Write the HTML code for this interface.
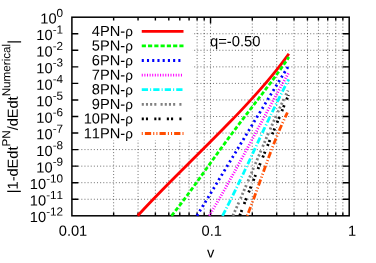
<!DOCTYPE html>
<html><head><meta charset="utf-8"><title>PN convergence chart</title><style>html,body{margin:0;padding:0;background:#fff;overflow:hidden}</style></head><body><svg width="376" height="263" viewBox="0 0 376 263" style="display:block;will-change:transform;font-kerning:none;font-family:'Liberation Sans',sans-serif">
<rect width="376" height="263" fill="#fff"/>
<path d="M71.90 33.75H349.20M71.90 50.30H349.20M71.90 66.85H349.20M71.90 83.40H349.20M71.90 99.95H349.20M71.90 116.50H349.20M71.90 133.05H349.20M71.90 149.60H349.20M71.90 166.15H349.20M71.90 182.70H349.20M71.90 199.25H349.20M113.64 215.80V17.20M138.05 215.80V17.20M155.38 215.80V17.20M168.81 215.80V17.20M179.79 215.80V17.20M189.07 215.80V17.20M197.11 215.80V17.20M204.21 215.80V17.20M210.55 215.80V17.20M252.29 215.80V17.20M276.70 215.80V17.20M294.03 215.80V17.20M307.46 215.80V17.20M318.44 215.80V17.20M327.72 215.80V17.20M335.76 215.80V17.20M342.86 215.80V17.20" stroke="#000" stroke-width="0.55" stroke-dasharray="1.045 2.090" fill="none"/>
<rect x="71.90" y="17.20" width="120.10" height="123.00" fill="#fff"/>
<path d="M71.90 33.75h6.4M349.20 33.75h-6.4M71.90 50.30h6.4M349.20 50.30h-6.4M71.90 66.85h6.4M349.20 66.85h-6.4M71.90 83.40h6.4M349.20 83.40h-6.4M71.90 99.95h6.4M349.20 99.95h-6.4M71.90 116.50h6.4M349.20 116.50h-6.4M71.90 133.05h6.4M349.20 133.05h-6.4M71.90 149.60h6.4M349.20 149.60h-6.4M71.90 166.15h6.4M349.20 166.15h-6.4M71.90 182.70h6.4M349.20 182.70h-6.4M71.90 199.25h6.4M349.20 199.25h-6.4M113.64 215.80v-3.3M113.64 17.20v3.3M138.05 215.80v-3.3M138.05 17.20v3.3M155.38 215.80v-3.3M155.38 17.20v3.3M168.81 215.80v-3.3M168.81 17.20v3.3M179.79 215.80v-3.3M179.79 17.20v3.3M189.07 215.80v-3.3M189.07 17.20v3.3M197.11 215.80v-3.3M197.11 17.20v3.3M204.21 215.80v-3.3M204.21 17.20v3.3M210.55 215.80v-6.4M210.55 17.20v6.4M252.29 215.80v-3.3M252.29 17.20v3.3M276.70 215.80v-3.3M276.70 17.20v3.3M294.03 215.80v-3.3M294.03 17.20v3.3M307.46 215.80v-3.3M307.46 17.20v3.3M318.44 215.80v-3.3M318.44 17.20v3.3M327.72 215.80v-3.3M327.72 17.20v3.3M335.76 215.80v-3.3M335.76 17.20v3.3M342.86 215.80v-3.3M342.86 17.20v3.3" stroke="#000" stroke-width="1.4" fill="none"/>
<rect x="71.90" y="17.20" width="277.30" height="198.60" stroke="#000" stroke-width="1.5" fill="none"/>
<path d="M137.67 215.80L140.68 212.55L143.72 209.30L146.78 206.06L149.88 202.81L152.99 199.56L156.13 196.31L159.29 193.06L162.46 189.82L165.66 186.57L168.87 183.32L172.09 180.07L175.32 176.82L178.57 173.57L181.82 170.33L185.08 167.08L188.34 163.83L191.60 160.58L194.87 157.33L198.14 154.09L201.40 150.84L204.65 147.59L207.91 144.34L211.15 141.09L214.38 137.85L217.60 134.60L220.81 131.35L224.01 128.10L227.18 124.85L230.34 121.60L233.48 118.36L236.59 115.11L239.68 111.86L242.75 108.61L245.78 105.36L248.79 102.12L251.77 98.87L254.71 95.62L257.62 92.37L260.49 89.12L263.33 85.88L266.12 82.63L268.87 79.38L271.58 76.13L274.24 72.88L276.86 69.63L279.43 66.39L281.94 63.14L284.40 59.89L286.81 56.64L288.87 53.80" stroke="#ff0000" stroke-width="2.8" fill="none"/>
<path d="M171.51 215.80L174.06 212.62L176.56 209.43L179.03 206.25L181.46 203.06L183.85 199.88L186.22 196.70L188.57 193.51L190.89 190.33L193.20 187.14L195.50 183.96L197.78 180.78L200.06 177.59L202.34 174.41L204.61 171.22L206.88 168.04L209.16 164.86L211.44 161.67L213.73 158.49L216.02 155.30L218.33 152.12L220.64 148.94L222.97 145.75L225.30 142.57L227.65 139.38L230.01 136.20L232.38 133.02L234.76 129.83L237.16 126.65L239.57 123.47L241.98 120.28L244.40 117.10L246.84 113.91L249.27 110.73L251.71 107.55L254.16 104.36L256.60 101.18L259.04 97.99L261.48 94.81L263.91 91.63L266.33 88.44L268.74 85.26L271.13 82.07L273.50 78.89L275.84 75.71L278.16 72.52L280.44 69.34L282.69 66.15L284.89 62.97L287.05 59.79L288.90 57.00" stroke="#00ff00" stroke-width="2.8" fill="none" stroke-dasharray="4.180 2.090"/>
<path d="M196.91 215.80L198.74 212.82L200.56 209.83L202.39 206.85L204.21 203.87L206.04 200.88L207.86 197.90L209.67 194.92L211.49 191.93L213.31 188.95L215.12 185.97L216.94 182.98L218.75 180.00L220.56 177.02L222.37 174.03L224.19 171.05L226.00 168.06L227.81 165.08L229.62 162.10L231.43 159.11L233.24 156.13L235.05 153.15L236.86 150.16L238.67 147.18L240.48 144.20L242.29 141.21L244.11 138.23L245.92 135.25L247.74 132.26L249.55 129.28L251.37 126.30L253.19 123.31L255.01 120.33L256.83 117.35L258.66 114.36L260.48 111.38L262.31 108.40L264.14 105.41L265.97 102.43L267.81 99.45L269.65 96.46L271.49 93.48L273.33 90.49L275.18 87.51L277.02 84.53L278.88 81.54L280.73 78.56L282.59 75.58L284.45 72.59L286.32 69.61L287.95 67.00" stroke="#0000ff" stroke-width="2.8" fill="none" stroke-dasharray="2.090 3.135"/>
<path d="M209.18 215.80L210.90 212.93L212.61 210.06L214.31 207.19L216.00 204.32L217.68 201.44L219.35 198.57L221.00 195.70L222.65 192.83L224.29 189.96L225.92 187.09L227.54 184.22L229.16 181.35L230.76 178.47L232.36 175.60L233.96 172.73L235.55 169.86L237.13 166.99L238.71 164.12L240.28 161.25L241.85 158.38L243.41 155.51L244.97 152.63L246.53 149.76L248.09 146.89L249.64 144.02L251.19 141.15L252.74 138.28L254.29 135.41L255.84 132.54L257.39 129.66L258.94 126.79L260.49 123.92L262.04 121.05L263.59 118.18L265.14 115.31L266.70 112.44L268.26 109.57L269.82 106.70L271.39 103.82L272.96 100.95L274.54 98.08L276.12 95.21L277.71 92.34L279.30 89.47L280.90 86.60L282.50 83.73L284.11 80.85L285.73 77.98L287.36 75.11L288.79 72.60" stroke="#ff00ff" stroke-width="2.8" fill="none" stroke-dasharray="1.045 1.567"/>
<path d="M222.48 215.80L223.90 213.06L225.31 210.33L226.71 207.59L228.10 204.85L229.48 202.12L230.84 199.38L232.20 196.64L233.55 193.91L234.89 191.17L236.22 188.43L237.54 185.69L238.85 182.96L240.16 180.22L241.46 177.48L242.76 174.75L244.05 172.01L245.34 169.27L246.62 166.54L247.90 163.80L249.18 161.06L250.46 158.33L251.73 155.59L253.00 152.85L254.27 150.12L255.55 147.38L256.82 144.64L258.09 141.91L259.37 139.17L260.65 136.43L261.93 133.69L263.21 130.96L264.50 128.22L265.79 125.48L267.09 122.75L268.39 120.01L269.70 117.27L271.02 114.54L272.34 111.80L273.67 109.06L275.01 106.33L276.36 103.59L277.72 100.85L279.08 98.12L280.46 95.38L281.85 92.64L283.25 89.91L284.66 87.17L286.09 84.43L287.53 81.69L288.80 79.30" stroke="#00ffff" stroke-width="2.8" fill="none" stroke-dasharray="6.270 2.090 1.045 2.090"/>
<path d="M232.85 215.80L233.98 213.29L235.11 210.78L236.23 208.26L237.35 205.75L238.46 203.24L239.56 200.73L240.66 198.21L241.75 195.70L242.84 193.19L243.93 190.68L245.01 188.16L246.09 185.65L247.17 183.14L248.24 180.63L249.31 178.12L250.38 175.60L251.45 173.09L252.51 170.58L253.58 168.07L254.64 165.55L255.71 163.04L256.78 160.53L257.84 158.02L258.91 155.51L259.98 152.99L261.05 150.48L262.12 147.97L263.19 145.46L264.27 142.94L265.35 140.43L266.43 137.92L267.52 135.41L268.61 132.89L269.71 130.38L270.81 127.87L271.91 125.36L273.02 122.85L274.14 120.33L275.26 117.82L276.39 115.31L277.53 112.80L278.68 110.28L279.83 107.77L280.99 105.26L282.16 102.75L283.33 100.24L284.52 97.72L285.71 95.21L286.92 92.70L287.98 90.50" stroke="#808080" stroke-width="2.8" fill="none" stroke-dasharray="2.090 2.090 2.090 2.090 2.090 2.090 2.090 4.180"/>
<path d="M239.70 215.80L240.61 213.38L241.52 210.96L242.44 208.53L243.36 206.11L244.29 203.69L245.22 201.27L246.16 198.85L247.10 196.42L248.05 194.00L249.00 191.58L249.95 189.16L250.91 186.74L251.87 184.31L252.83 181.89L253.80 179.47L254.77 177.05L255.74 174.63L256.72 172.20L257.70 169.78L258.68 167.36L259.66 164.94L260.65 162.51L261.64 160.09L262.63 157.67L263.62 155.25L264.62 152.83L265.61 150.40L266.61 147.98L267.61 145.56L268.61 143.14L269.61 140.72L270.61 138.29L271.62 135.87L272.62 133.45L273.62 131.03L274.63 128.61L275.63 126.18L276.64 123.76L277.64 121.34L278.64 118.92L279.65 116.50L280.65 114.07L281.65 111.65L282.65 109.23L283.65 106.81L284.65 104.39L285.65 101.96L286.65 99.54L287.64 97.12L288.51 95.00" stroke="#000000" stroke-width="2.8" fill="none" stroke-dasharray="2.090 2.090 2.090 6.270"/>
<path d="M247.13 215.80L247.96 213.73L248.78 211.66L249.59 209.59L250.39 207.52L251.18 205.44L251.97 203.37L252.75 201.30L253.52 199.23L254.29 197.16L255.05 195.09L255.81 193.02L256.56 190.95L257.31 188.87L258.06 186.80L258.81 184.73L259.55 182.66L260.29 180.59L261.03 178.52L261.77 176.45L262.51 174.38L263.26 172.31L264.00 170.23L264.74 168.16L265.49 166.09L266.24 164.02L267.00 161.95L267.75 159.88L268.52 157.81L269.28 155.74L270.06 153.66L270.84 151.59L271.62 149.52L272.42 147.45L273.22 145.38L274.03 143.31L274.85 141.24L275.67 139.17L276.51 137.10L277.36 135.02L278.22 132.95L279.09 130.88L279.97 128.81L280.87 126.74L281.78 124.67L282.70 122.60L283.64 120.53L284.59 118.45L285.55 116.38L286.54 114.31L287.41 112.50" stroke="#ff4d00" stroke-width="2.8" fill="none" stroke-dasharray="1.045 2.090 6.270 2.090 1.045 2.090"/>
<path d="M141.75 31.30H183.5" stroke="#ff0000" stroke-width="2.8" fill="none"/>
<text x="132.9" y="36.00" transform="rotate(0.03 132.9 36.00)" font-size="14.67" text-anchor="end">4PN-<tspan font-size="13.5">ρ</tspan></text>
<path d="M141.75 45.90H183.5" stroke="#00ff00" stroke-width="2.8" fill="none" stroke-dasharray="4.180 2.090"/>
<text x="132.9" y="50.60" transform="rotate(0.03 132.9 50.60)" font-size="14.67" text-anchor="end">5PN-<tspan font-size="13.5">ρ</tspan></text>
<path d="M141.75 60.50H183.5" stroke="#0000ff" stroke-width="2.8" fill="none" stroke-dasharray="2.090 3.135"/>
<text x="132.9" y="65.20" transform="rotate(0.03 132.9 65.20)" font-size="14.67" text-anchor="end">6PN-<tspan font-size="13.5">ρ</tspan></text>
<path d="M141.75 75.10H183.5" stroke="#ff00ff" stroke-width="2.8" fill="none" stroke-dasharray="1.045 1.567"/>
<text x="132.9" y="79.80" transform="rotate(0.03 132.9 79.80)" font-size="14.67" text-anchor="end">7PN-<tspan font-size="13.5">ρ</tspan></text>
<path d="M141.75 89.70H183.5" stroke="#00ffff" stroke-width="2.8" fill="none" stroke-dasharray="6.270 2.090 1.045 2.090"/>
<text x="132.9" y="94.40" transform="rotate(0.03 132.9 94.40)" font-size="14.67" text-anchor="end">8PN-<tspan font-size="13.5">ρ</tspan></text>
<path d="M141.75 104.30H183.5" stroke="#808080" stroke-width="2.8" fill="none" stroke-dasharray="2.090 2.090 2.090 2.090 2.090 2.090 2.090 4.180"/>
<text x="132.9" y="109.00" transform="rotate(0.03 132.9 109.00)" font-size="14.67" text-anchor="end">9PN-<tspan font-size="13.5">ρ</tspan></text>
<path d="M141.75 118.90H183.5" stroke="#000000" stroke-width="2.8" fill="none" stroke-dasharray="2.090 2.090 2.090 6.270"/>
<text x="132.9" y="123.60" transform="rotate(0.03 132.9 123.60)" font-size="14.67" text-anchor="end">10PN-<tspan font-size="13.5">ρ</tspan></text>
<path d="M141.75 133.50H183.5" stroke="#ff4d00" stroke-width="2.8" fill="none" stroke-dasharray="1.045 2.090 6.270 2.090 1.045 2.090"/>
<text x="132.9" y="138.20" transform="rotate(0.03 132.9 138.20)" font-size="14.67" text-anchor="end">11PN-<tspan font-size="13.5">ρ</tspan></text>
<text x="63.1" y="23.50" transform="rotate(0.03 63.1 23.50)" font-size="14.67" text-anchor="end">10<tspan font-size="11.736" dy="-6.6">0</tspan></text>
<text x="63.1" y="40.05" transform="rotate(0.03 63.1 40.05)" font-size="14.67" text-anchor="end">10<tspan font-size="11.736" dy="-6.6">-1</tspan></text>
<text x="63.1" y="56.60" transform="rotate(0.03 63.1 56.60)" font-size="14.67" text-anchor="end">10<tspan font-size="11.736" dy="-6.6">-2</tspan></text>
<text x="63.1" y="73.15" transform="rotate(0.03 63.1 73.15)" font-size="14.67" text-anchor="end">10<tspan font-size="11.736" dy="-6.6">-3</tspan></text>
<text x="63.1" y="89.70" transform="rotate(0.03 63.1 89.70)" font-size="14.67" text-anchor="end">10<tspan font-size="11.736" dy="-6.6">-4</tspan></text>
<text x="63.1" y="106.25" transform="rotate(0.03 63.1 106.25)" font-size="14.67" text-anchor="end">10<tspan font-size="11.736" dy="-6.6">-5</tspan></text>
<text x="63.1" y="122.80" transform="rotate(0.03 63.1 122.80)" font-size="14.67" text-anchor="end">10<tspan font-size="11.736" dy="-6.6">-6</tspan></text>
<text x="63.1" y="139.35" transform="rotate(0.03 63.1 139.35)" font-size="14.67" text-anchor="end">10<tspan font-size="11.736" dy="-6.6">-7</tspan></text>
<text x="63.1" y="155.90" transform="rotate(0.03 63.1 155.90)" font-size="14.67" text-anchor="end">10<tspan font-size="11.736" dy="-6.6">-8</tspan></text>
<text x="63.1" y="172.45" transform="rotate(0.03 63.1 172.45)" font-size="14.67" text-anchor="end">10<tspan font-size="11.736" dy="-6.6">-9</tspan></text>
<text x="63.1" y="189.00" transform="rotate(0.03 63.1 189.00)" font-size="14.67" text-anchor="end">10<tspan font-size="11.736" dy="-6.6">-10</tspan></text>
<text x="63.1" y="205.55" transform="rotate(0.03 63.1 205.55)" font-size="14.67" text-anchor="end">10<tspan font-size="11.736" dy="-6.6">-11</tspan></text>
<text x="63.1" y="222.10" transform="rotate(0.03 63.1 222.10)" font-size="14.67" text-anchor="end">10<tspan font-size="11.736" dy="-6.6">-12</tspan></text>
<text x="73.00" y="235.7" transform="rotate(0.03 73.00 235.7)" font-size="14.67" text-anchor="middle">0.01</text>
<text x="211.75" y="235.7" transform="rotate(0.03 211.75 235.7)" font-size="14.67" text-anchor="middle">0.1</text>
<text x="352.20" y="235.7" transform="rotate(0.03 352.20 235.7)" font-size="14.67" text-anchor="middle">1</text>
<text x="210.6" y="257.6" transform="rotate(0.03 210.6 257.6)" font-size="14.67" text-anchor="middle">v</text>
<text x="209.9" y="46.2" transform="rotate(0.03 209.9 46.2)" font-size="14.82">q=-0.50</text>
<text transform="translate(17.8 193.25) rotate(-89.97)" font-size="14.57">|1-dEdt<tspan font-size="11.66" dy="-7.7">PN</tspan><tspan dy="7.7">/dEdt</tspan><tspan font-size="11.66" dy="-7.7">Numerical</tspan><tspan dy="7.7">|</tspan></text>
</svg></body></html>
